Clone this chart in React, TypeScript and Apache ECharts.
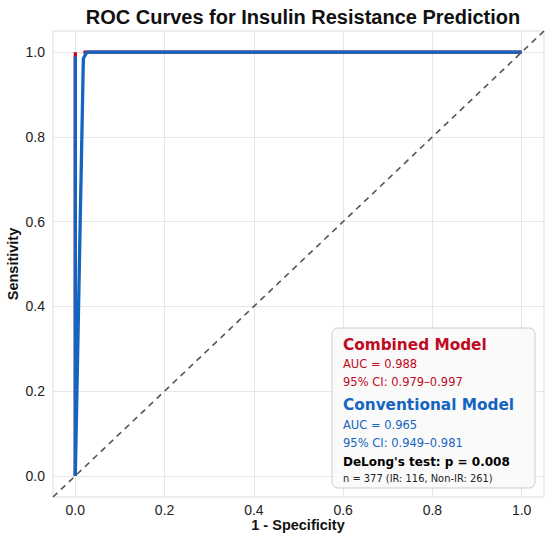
import React, { useEffect, useRef } from "react";
import * as echarts from "echarts";

const tickValues = [0, 0.2, 0.4, 0.6, 0.8, 1.0];
const combinedA: [number, number][] = [[0, 0], [0, 1.0]];
const combinedB: [number, number][] = [[0.018, 1.0], [1.0, 1.0]];
const conventionalA: [number, number][] = [[0, 0], [0, 0.99]];
const conventionalB: [number, number][] = [[0, 0], [0.018, 0.985], [0.026, 1.0], [1.0, 1.0]];
const diagonal: [number, number][] = [[-0.05, -0.05], [1.05, 1.05]];

const RED = "#c00a22";
const BLUE = "#1565c0";

export default function App() {
  const ref = useRef<HTMLDivElement>(null);
  useEffect(() => {
    if (!ref.current) return;
    const chart = echarts.init(ref.current, undefined, { renderer: "svg" });
    const font = "'Liberation Sans', Arial, sans-serif";
    const dv = "'DejaVu Sans', sans-serif";
    const lx = 343;
    chart.setOption({
      animation: false,
      backgroundColor: "#ffffff",
      title: {
        text: "ROC Curves for Insulin Resistance Prediction",
        left: 298,
        top: 2,
        textAlign: "center",
        textStyle: { fontFamily: font, fontSize: 20, fontWeight: "bold", color: "#111" },
      },
      grid: {
        left: 53,
        right: 6,
        top: 31,
        bottom: 43,
        show: true,
        borderColor: "#dcdcdc",
        borderWidth: 1,
        backgroundColor: "transparent",
      },
      xAxis: {
        type: "value",
        min: -0.05,
        max: 1.05,
        axisLine: { show: false },
        axisTick: { show: false },
        splitLine: { show: false },
        axisLabel: {
          customValues: tickValues,
          formatter: (v: number) => v.toFixed(1),
          fontFamily: font,
          fontSize: 14,
          color: "#222",
          margin: 6,
        },
      },
      yAxis: {
        type: "value",
        min: -0.05,
        max: 1.05,
        axisLine: { show: false },
        axisTick: { show: false },
        splitLine: { show: false },
        axisLabel: {
          customValues: tickValues,
          formatter: (v: number) => v.toFixed(1),
          fontFamily: font,
          fontSize: 14,
          color: "#222",
          margin: 8,
        },
      },
      series: [
        {
          type: "line",
          data: diagonal,
          symbol: "none",
          lineStyle: { color: "#555", width: 1.6, type: [6, 5] },
          z: 3,
          markLine: {
            silent: true,
            symbol: "none",
            label: { show: false },
            lineStyle: { color: "#e6e6e6", width: 1, type: "solid" },
            data: [
              ...tickValues.map((v) => ({ xAxis: v })),
              ...tickValues.map((v) => ({ yAxis: v })),
            ],
            z: 1,
          },
        },
        { type: "line", data: combinedA, symbol: "none", lineStyle: { color: RED, width: 3.3 }, z: 4 },
        { type: "line", data: combinedB, symbol: "none", lineStyle: { color: RED, width: 3.3 }, z: 4 },
        { type: "line", data: conventionalA, symbol: "none", lineStyle: { color: BLUE, width: 3.3 }, z: 5 },
        { type: "line", data: conventionalB, symbol: "none", lineStyle: { color: BLUE, width: 3.3 }, z: 5 },
      ],
      graphic: [
        {
          type: "text",
          x: 298,
          y: 525,
          style: { text: "1 - Specificity", fontFamily: font, fontSize: 14.5, fontWeight: "bold", fill: "#111", align: "center", verticalAlign: "middle" },
        },
        {
          type: "text",
          x: 13,
          y: 264,
          rotation: Math.PI / 2,
          style: { text: "Sensitivity", fontFamily: font, fontSize: 14.5, fontWeight: "bold", fill: "#111", align: "center", verticalAlign: "middle" },
        },
        {
          type: "rect",
          shape: { x: 332, y: 328, width: 203, height: 160, r: 6 },
          style: { fill: "rgba(250,250,250,0.9)", stroke: "#cccccc", lineWidth: 1 },
          z: 10,
        },
        { type: "text", x: lx, y: 345, z: 11, style: { text: "Combined Model", fontFamily: dv, fontSize: 15.3, fontWeight: "bold", fill: RED, verticalAlign: "middle" } },
        { type: "text", x: lx, y: 364, z: 11, style: { text: "AUC = 0.988", fontFamily: dv, fontSize: 11.5, fill: RED, verticalAlign: "middle" } },
        { type: "text", x: lx, y: 382, z: 11, style: { text: "95% CI: 0.979–0.997", fontFamily: dv, fontSize: 11.5, fill: RED, verticalAlign: "middle" } },
        { type: "text", x: lx, y: 405, z: 11, style: { text: "Conventional Model", fontFamily: dv, fontSize: 15.3, fontWeight: "bold", fill: BLUE, verticalAlign: "middle" } },
        { type: "text", x: lx, y: 425, z: 11, style: { text: "AUC = 0.965", fontFamily: dv, fontSize: 11.5, fill: BLUE, verticalAlign: "middle" } },
        { type: "text", x: lx, y: 443, z: 11, style: { text: "95% CI: 0.949–0.981", fontFamily: dv, fontSize: 11.5, fill: BLUE, verticalAlign: "middle" } },
        { type: "text", x: lx, y: 462, z: 11, style: { text: "DeLong's test: p = 0.008", fontFamily: dv, fontSize: 12, fontWeight: "bold", fill: "#000", verticalAlign: "middle" } },
        { type: "text", x: lx, y: 478, z: 11, style: { text: "n = 377 (IR: 116, Non-IR: 261)", fontFamily: dv, fontSize: 9.9, fill: "#222", verticalAlign: "middle" } },
      ],
    });
    return () => chart.dispose();
  }, []);
  return <div ref={ref} style={{ position: "fixed", left: 0, top: 0, width: 550, height: 540 }} />;
}
